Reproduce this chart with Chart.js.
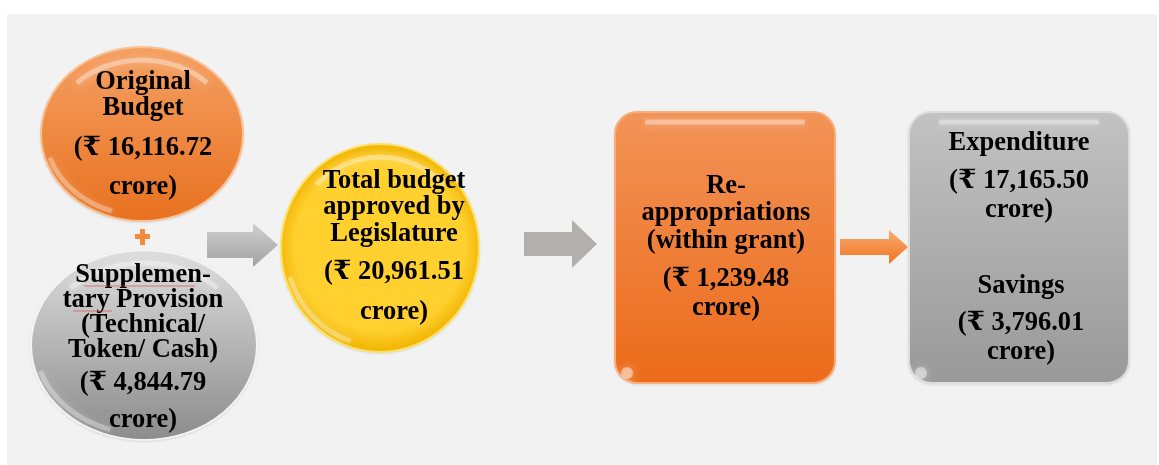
<!DOCTYPE html>
<html lang="en">
<head>
    <meta charset="UTF-8">
    <title>Budget flow</title>
    <script src="https://cdn.jsdelivr.net/npm/chart.js"></script>
    <style>
        html, body {
            margin: 0;
            padding: 0;
            background: #ffffff;
        }
        #flow {
            display: block;
        }
    </style>
</head>
<body>
    <canvas id="flow" width="1159" height="465"></canvas>

    <script>
        // values (₹ crore)
        const nodeTitles = [
            ['Original', 'Budget'],
            ['Supplemen-', 'tary Provision', '(Technical/', 'Token/ Cash)'],
            ['Total budget', 'approved by', 'Legislature'],
            ['Re-', 'appropriations', '(within grant)'],
            ['Expenditure'],
            ['Savings']
        ];
        const amounts = [16116.72, 4844.79, 20961.51, 1239.48, 17165.50, 3796.01];

        // layout: shape boxes and text line positions (in the 1159 x 465 frame)
        const shapes = [
            { kind: 'ellipse', cx: 142, cy: 134, rx: 101, ry: 87, top: '#f5a063', bottom: '#e8711f', rim: '#f8c196' },
            { kind: 'ellipse', cx: 144, cy: 345, rx: 113, ry: 95, top: '#dedede', bottom: '#8c8c8c', rim: '#f4f4f4' },
            { kind: 'circle', cx: 380, cy: 248, rx: 99, ry: 104, top: '#ffd02e', bottom: '#f0b200', rim: '#fbe36a' },
            { kind: 'rect', x: 615, y: 112, w: 220, h: 271, top: '#f29357', bottom: '#ec6b1a', rim: '#f7ae7a' },
            { kind: 'rect', x: 909, y: 112, w: 220, h: 271, top: '#c2c2c2', bottom: '#999999', rim: '#dddddd' }
        ];
        const textBlocks = [
            { x: 143, ys: [82, 108, 148, 187] },
            { x: 143, ys: [275, 300, 325, 350, 383, 420] },
            { x: 394, ys: [181, 207, 234, 272, 312] },
            { x: 726, ys: [186, 213, 241, 279, 308] },
            { x: 1019, ys: [143, 181, 210] },
            { x: 1021, ys: [286, 323, 352] }
        ];
        const arrows = [
            { x0: 207, x1: 278, cy: 245, body: 13, head: 22, neck: 253, top: '#d0d0d0', bottom: '#a2a2a2' },
            { x0: 524, x1: 597, cy: 244, body: 12, head: 24, neck: 572, top: '#b3afae', bottom: '#b3afae' },
            { x0: 840, x1: 908, cy: 247, body: 8, head: 17, neck: 889, top: '#f9ac70', bottom: '#ee7420' }
        ];

        function fmt(v) {
            return '(\u20B9 ' + v.toLocaleString('en-IN', { minimumFractionDigits: 2, maximumFractionDigits: 2 });
        }

        function roundRect(ctx, x, y, w, h, r) {
            ctx.beginPath();
            ctx.moveTo(x + r, y);
            ctx.arcTo(x + w, y, x + w, y + h, r);
            ctx.arcTo(x + w, y + h, x, y + h, r);
            ctx.arcTo(x, y + h, x, y, r);
            ctx.arcTo(x, y, x + w, y, r);
            ctx.closePath();
        }

        const diagram = {
            id: 'diagram',
            beforeDraw(chart) {
                const { ctx, scales: { x, y } } = chart;
                const px = v => x.getPixelForValue(v);
                const py = v => y.getPixelForValue(v);

                ctx.save();
                ctx.fillStyle = '#f2f2f2';
                ctx.fillRect(px(7), py(14), px(1157) - px(7), py(465) - py(14));

                shapes.forEach(s => {
                    ctx.save();
                    let y0, y1;
                    if (s.kind === 'rect') {
                        roundRect(ctx, px(s.x), py(s.y), px(s.x + s.w) - px(s.x), py(s.y + s.h) - py(s.y), 22);
                        y0 = py(s.y); y1 = py(s.y + s.h);
                    } else {
                        ctx.beginPath();
                        ctx.ellipse(px(s.cx), py(s.cy), s.rx, s.ry, 0, 0, Math.PI * 2);
                        y0 = py(s.cy - s.ry); y1 = py(s.cy + s.ry);
                    }
                    let g;
                    if (s.kind === 'circle') {
                        g = ctx.createRadialGradient(px(s.cx), py(s.cy - 10), 10, px(s.cx), py(s.cy), s.ry);
                        g.addColorStop(0, s.top);
                        g.addColorStop(0.8, s.top);
                        g.addColorStop(1, s.bottom);
                    } else {
                        g = ctx.createLinearGradient(0, y0, 0, y1);
                        g.addColorStop(0, s.top);
                        g.addColorStop(1, s.bottom);
                    }
                    ctx.fillStyle = g;
                    ctx.shadowColor = 'rgba(0,0,0,0.2)';
                    ctx.shadowBlur = 3;
                    ctx.shadowOffsetY = 1;
                    ctx.fill();
                    ctx.shadowColor = 'transparent';
                    ctx.lineWidth = 2;
                    ctx.strokeStyle = s.rim;
                    ctx.stroke();

                    // soft glossy highlight along the top edge
                    ctx.clip();
                    ctx.strokeStyle = 'rgba(255,255,255,0.35)';
                    ctx.lineWidth = 5;
                    ctx.shadowColor = 'rgba(255,255,255,0.8)';
                    ctx.shadowBlur = 8;
                    ctx.beginPath();
                    if (s.kind === 'rect') {
                        ctx.moveTo(px(s.x + 30), py(s.y + 10));
                        ctx.lineTo(px(s.x + s.w - 30), py(s.y + 10));
                        ctx.stroke();
                        ctx.beginPath();
                        ctx.arc(px(s.x + 12), py(s.y + s.h - 10), 6, 0, Math.PI * 2);
                        ctx.fillStyle = 'rgba(255,255,255,0.45)';
                        ctx.fill();
                    } else {
                        ctx.ellipse(px(s.cx), py(s.cy + 4), s.rx - 9, s.ry - 9, 0, Math.PI * 1.25, Math.PI * 1.75);
                        ctx.stroke();
                        ctx.beginPath();
                        ctx.ellipse(px(s.cx), py(s.cy - 2), s.rx - 4, s.ry - 4, 0, Math.PI * 0.6, Math.PI * 0.9);
                        ctx.strokeStyle = 'rgba(255,255,255,0.3)';
                        ctx.stroke();
                    }
                    ctx.restore();
                });

                arrows.forEach(a => {
                    ctx.save();
                    const cy = py(a.cy);
                    ctx.beginPath();
                    ctx.moveTo(px(a.x0), cy - a.body);
                    ctx.lineTo(px(a.neck), cy - a.body);
                    ctx.lineTo(px(a.neck), cy - a.head);
                    ctx.lineTo(px(a.x1), cy);
                    ctx.lineTo(px(a.neck), cy + a.head);
                    ctx.lineTo(px(a.neck), cy + a.body);
                    ctx.lineTo(px(a.x0), cy + a.body);
                    ctx.closePath();
                    const g = ctx.createLinearGradient(0, cy - a.head, 0, cy + a.head);
                    g.addColorStop(0, a.top);
                    g.addColorStop(1, a.bottom);
                    ctx.fillStyle = g;
                    ctx.fill();
                    ctx.restore();
                });

                // plus sign between the two inputs
                ctx.fillStyle = '#f08a3c';
                ctx.fillRect(px(135), py(234), 15, 5);
                ctx.fillRect(px(140), py(229), 5, 16);
                ctx.restore();
            },
            afterDraw(chart) {
                const { ctx, scales: { x, y } } = chart;
                const px = v => x.getPixelForValue(v);
                const py = v => y.getPixelForValue(v);
                ctx.save();
                ctx.fillStyle = '#000000';
                ctx.textAlign = 'center';
                ctx.textBaseline = 'middle';
                ctx.font = 'bold 26.5px "Liberation Serif", "DejaVu Serif", serif';
                textBlocks.forEach((b, i) => {
                    const lines = nodeTitles[i].concat([fmt(amounts[i]), 'crore)']);
                    lines.forEach((t, j) => ctx.fillText(t, px(b.x), py(b.ys[j])));
                });
                // spell-check squiggles under the hyphenated word
                ctx.strokeStyle = 'rgba(220,60,60,0.6)';
                ctx.lineWidth = 1;
                ctx.beginPath();
                ctx.moveTo(px(84), py(286)); ctx.lineTo(px(195), py(286));
                ctx.moveTo(px(73), py(311)); ctx.lineTo(px(112), py(311));
                ctx.stroke();
                ctx.restore();
            }
        };

        new Chart(document.getElementById('flow'), {
            type: 'scatter',
            data: {
                datasets: [{
                    data: textBlocks.map((b, i) => ({ x: b.x, y: b.ys[0], v: amounts[i] })),
                    pointRadius: 0
                }]
            },
            options: {
                responsive: false,
                animation: false,
                layout: { padding: 0 },
                plugins: { legend: { display: false }, tooltip: { enabled: false } },
                scales: {
                    x: { type: 'linear', min: 0, max: 1159, display: false },
                    y: { type: 'linear', min: 0, max: 465, reverse: true, display: false }
                }
            },
            plugins: [diagram]
        });
    </script>
</body>
</html>
